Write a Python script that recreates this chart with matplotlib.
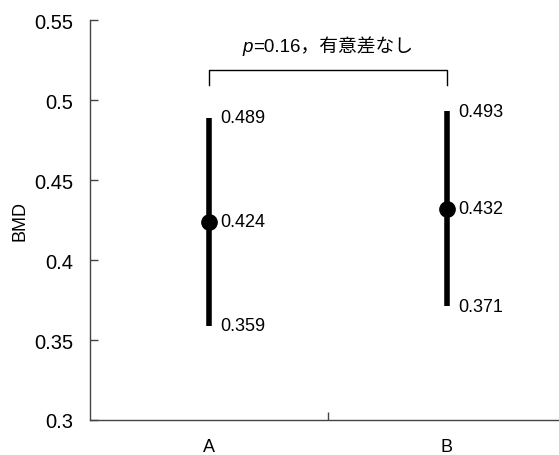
import matplotlib
matplotlib.use("Agg")
import matplotlib.pyplot as plt

groups = ["A", "B"]
means = [0.424, 0.432]
lows = [0.359, 0.371]
highs = [0.489, 0.493]
p_rest = "=0.16，有意差なし"

plt.rcParams["font.family"] = ["Liberation Sans", "Noto Sans CJK JP"]

fig = plt.figure(figsize=(5.59, 4.56), dpi=100)
ax = fig.add_axes([90 / 559, 35 / 456, 476 / 559, 400 / 456])

x = list(range(len(groups)))
for xi, m, lo, hi in zip(x, means, lows, highs):
    ax.plot([xi, xi], [lo, hi], color="black", linewidth=4, solid_capstyle="butt", zorder=2)
    ax.plot(xi, m, "o", color="black", markersize=11, zorder=3)
    for v in (lo, m, hi):
        ax.annotate(f"{v:.3f}", (xi, v), xytext=(8, 0), textcoords="offset points",
                    ha="left", va="center", fontsize=13)

# significance bracket
ax.plot([x[0], x[0], x[1], x[1]], [0.5095, 0.519, 0.519, 0.5095], color="black", linewidth=1)
mid = (x[0] + x[1]) / 2
ax.annotate("p", (mid, 0.5335), xytext=(-54, 0), textcoords="offset points",
            ha="right", va="center", fontsize=13.5, fontstyle="italic")
ax.annotate(p_rest, (mid, 0.5335), xytext=(-54, 0), textcoords="offset points",
            ha="left", va="center", fontsize=13.5)

ax.set_xlim(-0.5, 1.5)
ax.set_ylim(0.3, 0.55)
ax.set_yticks([0.3, 0.35, 0.4, 0.45, 0.5, 0.55])
ax.set_yticklabels(["0.3", "0.35", "0.4", "0.45", "0.5", "0.55"])
ax.set_xticks(x)
ax.set_xticklabels(groups)
ax.set_xticks([0.5], minor=True)
ax.tick_params(axis="x", which="major", length=0, pad=13, labelsize=13)
ax.tick_params(axis="x", which="minor", direction="in", length=6, width=1, color="#444444")
ax.tick_params(axis="y", direction="in", length=6, width=1, color="#444444", pad=12, labelsize=14.5)
ax.set_ylabel("BMD", fontsize=13)
ax.yaxis.set_label_coords(-0.13, 0.5)

for s in ("top", "right"):
    ax.spines[s].set_visible(False)
for s in ("left", "bottom"):
    ax.spines[s].set_color("#444444")
    ax.spines[s].set_linewidth(1)

fig.savefig("out.png", dpi=100)
